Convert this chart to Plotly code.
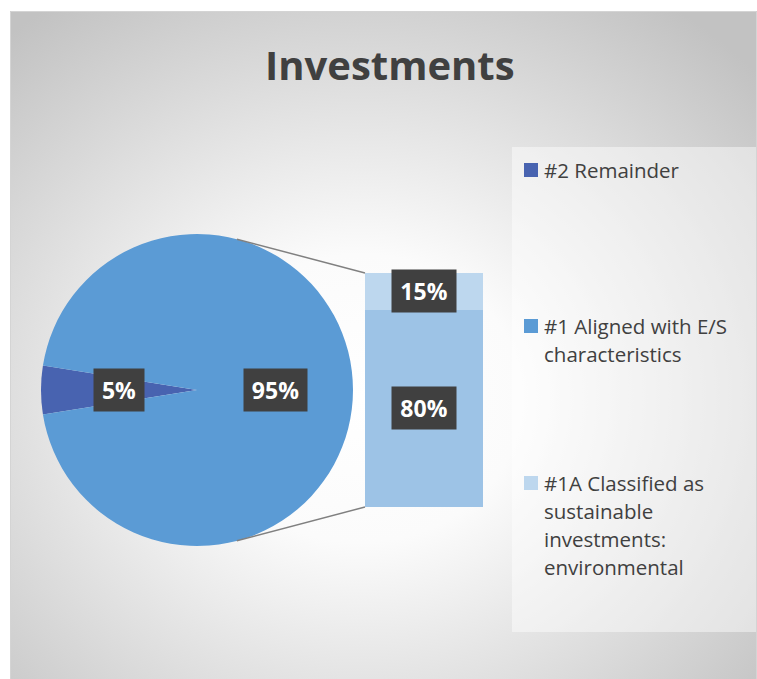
import math, base64
import plotly.graph_objects as go

# ---------------- data ----------------
pie_labels = ["#2 Remainder", "#1 Aligned with E/S characteristics"]
pie_values = [5, 95]
pie_colors = ["#4863B0", "#5B9BD5"]

bar_labels = ["#1 Aligned with E/S characteristics (other)",
              "#1A Classified as sustainable investments: environmental"]
bar_values = [80, 15]
bar_colors = ["#9DC3E6", "#BDD7EE"]

legend_labels = [["#2 Remainder"],
                 ["#1 Aligned with E/S", "characteristics"],
                 ["#1A Classified as", "sustainable", "investments:", "environmental"]]
legend_colors = ["#4863B0", "#5B9BD5", "#BDD7EE"]

title_text = "Investments"

# ---------------- geometry helpers (styling) ----------------
W, H = 757, 679
def px(x): return x / W
def py(y): return 1 - y / H

FONT = "Open Sans"
TXT = "#404040"

pie_cx, pie_cy, pie_r = 197, 390, 156
rotation = 270 - pie_values[0] / sum(pie_values) * 360 / 2   # centre first slice at 9 o'clock
bar_x0, bar_x1, bar_y0, bar_y1 = 365, 483, 273, 507

fig = go.Figure()

fig.add_trace(go.Pie(
    labels=pie_labels, values=pie_values, sort=False,
    direction="clockwise", rotation=rotation,
    marker=dict(colors=pie_colors, line=dict(width=0)),
    textinfo="none", hoverinfo="label+percent", showlegend=False,
    domain=dict(x=[px(pie_cx - pie_r), px(pie_cx + pie_r)],
                y=[py(pie_cy + pie_r), py(pie_cy - pie_r)]),
))

for lab, val, col in zip(bar_labels, bar_values, bar_colors):
    fig.add_trace(go.Bar(
        x=[0], y=[val], name=lab, marker=dict(color=col, line=dict(width=0)),
        showlegend=False, xaxis="x", yaxis="y", hoverinfo="name+y",
    ))

annotations = []
shapes = []

# title
annotations.append(dict(text=f"<b>{title_text}</b>", x=px(390), y=py(64), xref="paper", yref="paper",
                        xanchor="center", yanchor="middle", showarrow=False,
                        font=dict(family=FONT, size=40, color=TXT)))

def box(w):
    return dict(bgcolor="#404040", borderpad=4, showarrow=False, width=w, height=34,
                font=dict(family=FONT, size=23, color="white"))

# pie labels
total = sum(pie_values)
cum = 0
for v in pie_values:
    theta = math.radians(rotation + (cum + v / 2) / total * 360)
    cum += v
    lx = pie_cx + 0.5 * pie_r * math.sin(theta)
    ly = pie_cy - 0.5 * pie_r * math.cos(theta)
    annotations.append(dict(text=f"<b>{v}%</b>", x=px(lx), y=py(ly), xref="paper", yref="paper",
                            xanchor="center", yanchor="middle", **box(42 if v < 10 else 55)))

# bar labels
cum = 0
for v in bar_values:
    annotations.append(dict(text=f"<b>{v}%</b>", x=0, y=cum + v / 2, xref="x", yref="y",
                            xanchor="center", yanchor="middle", **box(56)))
    cum += v

# connector lines
ang = math.radians(14.8)
for sgn, by in [(-1, bar_y0), (1, bar_y1)]:
    sx = pie_cx + pie_r * math.sin(ang)
    sy = pie_cy + sgn * pie_r * math.cos(ang)
    shapes.append(dict(type="line", xref="paper", yref="paper", x0=px(sx), y0=py(sy),
                       x1=px(bar_x0), y1=py(by), line=dict(color="#808080", width=1.5)))

# legend panel
shapes.append(dict(type="rect", xref="paper", yref="paper", layer="below",
                   x0=px(512), x1=px(756), y0=py(632), y1=py(147),
                   fillcolor="rgba(255,255,255,0.45)", line=dict(width=0)))
item_y = [170, 326, 483]
for lines, col, y0 in zip(legend_labels, legend_colors, item_y):
    shapes.append(dict(type="rect", xref="paper", yref="paper",
                       x0=px(524), x1=px(538), y0=py(y0 + 7), y1=py(y0 - 7),
                       fillcolor=col, line=dict(width=0)))
    for k, t in enumerate(lines):
        annotations.append(dict(text=t, x=px(542), y=py(y0 + 28 * k), xref="paper", yref="paper",
                                xanchor="left", yanchor="middle", showarrow=False,
                                font=dict(family=FONT, size=20.5, color=TXT)))

# chart border
shapes.append(dict(type="rect", xref="paper", yref="paper", layer="below",
                   x0=px(10.5), x1=px(756.5), y0=py(690), y1=py(11.5),
                   fillcolor="rgba(0,0,0,0)", line=dict(color="#d4d4d4", width=1)))

# background radial gradient
svg = ("<svg xmlns='http://www.w3.org/2000/svg' width='747' height='668' preserveAspectRatio='none'>"
       "<defs><radialGradient id='g' cx='0.47' cy='0.58' r='0.72'>"
       "<stop offset='0' stop-color='#ffffff'/><stop offset='0.3' stop-color='#fbfbfb'/>"
       "<stop offset='1' stop-color='#c2c2c2'/></radialGradient></defs>"
       "<rect width='747' height='668' fill='url(#g)'/></svg>")
src = "data:image/svg+xml;base64," + base64.b64encode(svg.encode()).decode()

fig.update_layout(
    width=W, height=H, margin=dict(l=0, r=0, t=0, b=0),
    paper_bgcolor="white", plot_bgcolor="rgba(0,0,0,0)",
    barmode="stack", bargap=0,
    xaxis=dict(domain=[px(bar_x0), px(bar_x1)], range=[-0.5, 0.5], visible=False, fixedrange=True),
    yaxis=dict(domain=[py(bar_y1), py(bar_y0)], range=[0, sum(bar_values)], visible=False, fixedrange=True),
    annotations=annotations, shapes=shapes, showlegend=False,
    images=[dict(source=src, xref="paper", yref="paper", x=px(10), y=py(11),
                 sizex=1 - px(10), sizey=py(11), xanchor="left", yanchor="top",
                 sizing="stretch", layer="below")],
)

fig.write_html("out.html", config={"displayModeBar": False},
               post_script="document.body.style.margin='0';document.body.style.overflow='hidden';")
